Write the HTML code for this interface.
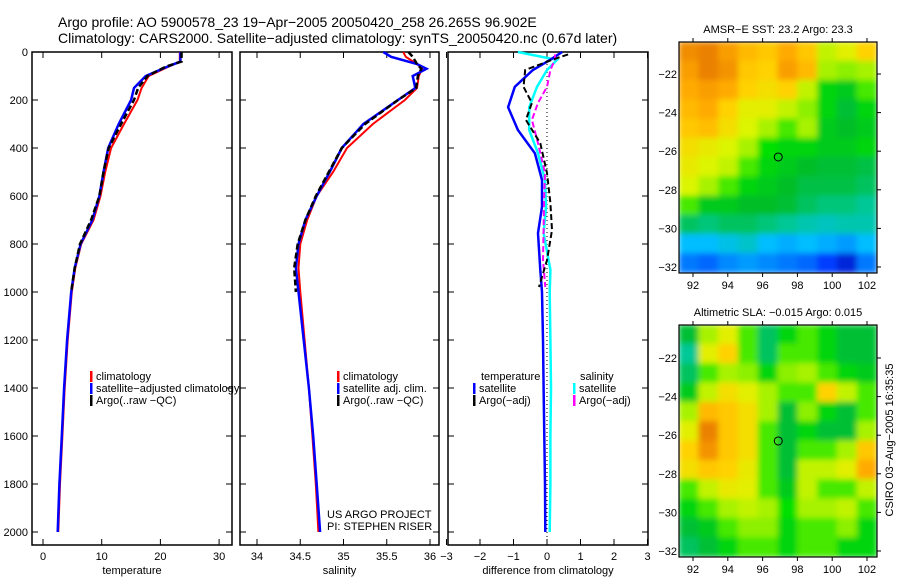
<!DOCTYPE html>
<html><head><meta charset="utf-8"><style>
body{margin:0;background:#fff}
svg{display:block;font-family:"Liberation Sans","DejaVu Sans",sans-serif}
</style></head><body>
<svg id="c" width="900" height="580" viewBox="0 0 900 580" xmlns="http://www.w3.org/2000/svg">
<defs><filter id="bl" x="0" y="0" width="1" height="1"><feGaussianBlur stdDeviation="3"/></filter>
<clipPath id="cp1"><rect x="679" y="42" width="198" height="231"/></clipPath>
<clipPath id="cp2"><rect x="679" y="325" width="198" height="232"/></clipPath></defs>
<text x="58" y="27" font-size="14">Argo profile: AO 5900578_23 19−Apr−2005 20050420_258 26.265S 96.902E</text>
<text x="58" y="43" font-size="14">Climatology: CARS2000. Satellite−adjusted climatology: synTS_20050420.nc (0.67d later)</text>
<g id="g"></g>
</svg>
<script>
// ---- data ----
var tDepth=[0,40,60,100,150,200,300,400,500,600,700,800,900,1000,1200,1400,1600,1800,2000];
var tClim=[23.3,23.3,21.5,18.0,16.8,16.1,13.8,11.6,10.6,9.8,8.6,6.5,5.5,4.9,4.2,3.7,3.3,2.9,2.6];
var tSat=[23.4,23.4,21.3,17.5,15.5,15.0,12.9,11.1,10.3,9.6,8.4,6.4,5.4,4.8,4.1,3.6,3.2,2.8,2.5];
var tArgo=[23.6,23.6,21.0,17.8,16.2,15.5,13.3,11.2,10.3,9.6,8.2,6.3,5.4,4.8];
var sDepth=[0,20,50,70,100,150,200,300,400,500,600,700,800,900,1000,1200,1400,1600,1800,2000];
var sClim=[35.69,35.72,35.85,35.91,35.87,35.85,35.71,35.34,35.04,34.88,34.69,34.58,34.50,34.48,34.50,34.55,34.60,34.64,34.68,34.71];
var sSat=[35.46,35.55,35.85,35.96,35.80,35.83,35.63,35.23,34.98,34.84,34.69,34.56,34.48,34.45,34.48,34.54,34.60,34.65,34.69,34.73];
var sArgo=[35.75,35.80,35.85,35.90,35.86,35.84,35.63,35.25,34.98,34.83,34.68,34.56,34.47,34.43,34.45];
var dDepth=[0,33,75,145,230,325,422,533,645,755,908,1000,1200,1400,1600,1800,2000];
var dTSat=[0.45,0.09,-0.42,-0.96,-1.16,-0.87,-0.36,-0.15,-0.15,-0.27,-0.2,-0.15,-0.12,-0.1,-0.08,-0.06,-0.05];
var dSSat=[-0.87,0.3,0.0,-0.3,-0.53,-0.53,-0.27,-0.06,-0.03,-0.1,0.1,0.08,0.1,0.12,0.1,0.1,0.08];
var daDepth=[10,30,75,145,212,283,380,504,629,742,867,979];
var dTArgo=[0.63,0.2,-0.65,-0.7,-0.45,-0.63,-0.2,0.0,0.1,0.15,0.0,-0.24];
var dSArgo=[0.24,0.24,0.1,0.0,-0.27,-0.45,-0.27,-0.06,-0.09,-0.1,-0.12,-0.05];
var depthTicks=[0,200,400,600,800,1000,1200,1400,1600,1800,2000];
var tTicks=[0,10,20,30];
var sTicks=[34,34.5,35,35.5,36];
var sTickLabels=["34","34.5","35","35.5","36"];
var dTicks=[-3,-2,-1,0,1,2,3];
var dTickLabels=["−3","−2","−1","0","1","2","3"];
var lonTicks=[92,94,96,98,100,102];
var latTicks=[-22,-24,-26,-28,-30,-32];
var sstGrid=[
[0.83,0.85,0.8,0.75,0.72,0.78,0.72,0.62,0.65,0.7],
[0.8,0.85,0.82,0.72,0.7,0.8,0.75,0.6,0.58,0.6],
[0.78,0.8,0.78,0.7,0.68,0.7,0.62,0.5,0.48,0.55],
[0.75,0.78,0.7,0.65,0.65,0.62,0.58,0.5,0.45,0.5],
[0.72,0.74,0.68,0.64,0.6,0.55,0.6,0.48,0.46,0.48],
[0.68,0.66,0.64,0.6,0.52,0.5,0.5,0.48,0.48,0.5],
[0.66,0.64,0.62,0.55,0.5,0.48,0.46,0.45,0.45,0.44],
[0.64,0.6,0.55,0.5,0.48,0.46,0.44,0.44,0.44,0.42],
[0.55,0.48,0.48,0.46,0.46,0.45,0.42,0.4,0.4,0.38],
[0.42,0.4,0.42,0.42,0.4,0.38,0.36,0.35,0.36,0.36],
[0.3,0.3,0.32,0.34,0.3,0.28,0.3,0.28,0.26,0.3],
[0.22,0.2,0.24,0.26,0.24,0.22,0.2,0.15,0.1,0.22]];
var slaGrid=[
[0.45,0.6,0.65,0.55,0.42,0.5,0.55,0.5,0.45,0.45],
[0.38,0.65,0.7,0.55,0.42,0.55,0.55,0.5,0.45,0.45],
[0.42,0.55,0.6,0.58,0.5,0.58,0.6,0.55,0.5,0.48],
[0.48,0.62,0.68,0.65,0.6,0.55,0.55,0.7,0.62,0.55],
[0.6,0.75,0.72,0.68,0.6,0.45,0.58,0.5,0.45,0.55],
[0.65,0.85,0.72,0.68,0.55,0.45,0.5,0.45,0.45,0.6],
[0.7,0.82,0.72,0.68,0.55,0.45,0.55,0.55,0.6,0.72],
[0.68,0.72,0.7,0.66,0.55,0.45,0.62,0.62,0.65,0.78],
[0.55,0.62,0.66,0.65,0.55,0.48,0.62,0.55,0.55,0.62],
[0.5,0.55,0.6,0.62,0.6,0.52,0.6,0.6,0.62,0.55],
[0.45,0.48,0.55,0.58,0.58,0.5,0.55,0.55,0.58,0.5],
[0.42,0.45,0.5,0.55,0.55,0.5,0.55,0.55,0.5,0.5]];

// ---- helpers ----
var NS="http://www.w3.org/2000/svg",G=document.getElementById('g');
function mk(t,a,p){var e=document.createElementNS(NS,t);for(var k in a)e.setAttribute(k,a[k]);(p||G).appendChild(e);return e;}
function yD(d){return 52+0.24*d;}
function xT(v){return 43+5.87*v;}
function xS(v){return 257+86.5*(v-34);}
function xDf(v){return 547+33.5*v;}
function line(xs,ds,fx,col,w,dash,name){
  var p=[];for(var i=0;i<xs.length;i++)p.push(fx(xs[i]).toFixed(1)+","+yD(ds[i]).toFixed(1));
  var a={points:p.join(" "),fill:"none",stroke:col,"stroke-width":w};if(dash)a["stroke-dasharray"]=dash;
  var e=mk("polyline",a);
  
  
}
function txt(x,y,s,fs,anchor,name){var e=mk("text",{x:x,y:y,"font-size":fs,"text-anchor":anchor||"start"});e.textContent=s;
  
  
  return e;}
function panel(x0,x1,ticks,labels,fx,xtitle,name,ylabels){
  var r=mk("rect",{x:x0,y:52,width:x1-x0,height:493,fill:"none",stroke:"#000","stroke-width":1.5});
  
  
  ticks.forEach(function(t,i){var x=fx(t);
    mk("line",{x1:x,x2:x,y1:545,y2:539,stroke:"#000"});mk("line",{x1:x,x2:x,y1:52,y2:58,stroke:"#000"});
    txt(x,560,labels[i],11,"middle",name+'-x-tick-label');});
  depthTicks.forEach(function(d){var y=yD(d);
    mk("line",{x1:x0,x2:x0+6,y1:y,y2:y,stroke:"#000"});mk("line",{x1:x1,x2:x1-6,y1:y,y2:y,stroke:"#000"});
    if(ylabels)txt(28,y+4,String(d),11,"end",'y-tick-label');});
  txt((x0+x1)/2,574,xtitle,11,"middle",name+'-x-axis-title');
}
function leg(x,y,col,label,name){var r=mk("rect",{x:x,y:y-9,width:2.5,height:11,fill:col});
  
  
  if(label)txt(x+6,y,label,11,"start",name);}

// ---- panels ----
panel(32,232,tTicks,tTicks.map(String),xT,"temperature","temperature-panel",true);
panel(240,439,sTicks,sTickLabels,xS,"salinity","salinity-panel",false);
panel(448,648,dTicks,dTickLabels,xDf,"difference from climatology","difference-panel",false);
var z=mk("line",{x1:xDf(0),x2:xDf(0),y1:52,y2:545,stroke:"#000","stroke-dasharray":"1,3"});


line(tClim,tDepth,xT,"#f00",2,null,"temp-climatology-line");
line(tSat,tDepth,xT,"#00f",2.5,null,"temp-satellite-line");
line(tArgo,tDepth.slice(0,tArgo.length),xT,"#000",2.5,"6,3","temp-argo-line");
line(sClim,sDepth,xS,"#f00",2,null,"sal-climatology-line");
line(sSat,sDepth,xS,"#00f",2.5,null,"sal-satellite-line");
line(sArgo,sDepth.slice(0,sArgo.length),xS,"#000",2.5,"6,3","sal-argo-line");
line(dSSat,dDepth,xDf,"#0ff",2.5,null,"diff-sal-satellite-line");
line(dTSat,dDepth,xDf,"#00f",2.5,null,"diff-temp-satellite-line");
line(dSArgo,daDepth,xDf,"#f0f",2,"6,3","diff-sal-argo-line");
line(dTArgo,daDepth,xDf,"#000",2,"6,3","diff-temp-argo-line");

// legends
leg(90,380,"#f00","climatology","legend-climatology");
leg(90,392,"#00f","satellite−adjusted climatology","legend-satellite");
leg(90,404,"#000","Argo(..raw −QC)","legend-argo");
leg(337,380,"#f00","climatology","legend2-climatology");
leg(337,392,"#00f","satellite adj. clim.","legend2-satellite");
leg(337,404,"#000","Argo(..raw −QC)","legend2-argo");
txt(481,380,"temperature",11,"start","legend3-temperature-header");
leg(473,392,"#00f","satellite","legend3-temp-satellite");
leg(473,404,"#000","Argo(−adj)","legend3-temp-argo");
txt(580,380,"salinity",11,"start","legend3-salinity-header");
leg(573,392,"#0ff","satellite","legend3-sal-satellite");
leg(573,404,"#f0f","Argo(−adj)","legend3-sal-argo");
txt(327,518,"US ARGO PROJECT",11,"start","project-label");
txt(327,530,"PI: STEPHEN RISER",11,"start","pi-label");

// ---- maps ----
var stops=[[0,[0,0,140]],[0.15,[0,60,255]],[0.3,[0,190,255]],[0.38,[0,200,150]],[0.46,[0,190,40]],[0.52,[0,225,0]],[0.58,[140,240,0]],[0.64,[220,245,0]],[0.7,[255,210,0]],[0.78,[255,170,0]],[0.9,[220,100,0]],[1,[150,40,0]]];
function cmap(v){for(var i=1;i<stops.length;i++){if(v<=stops[i][0]){var a=stops[i-1],b=stops[i],f=(v-a[0])/(b[0]-a[0]);
  return "rgb("+[0,1,2].map(function(k){return Math.round(a[1][k]+f*(b[1][k]-a[1][k]));}).join(",")+")";}}return "rgb(150,40,0)";}
function map(grid,x0,y0,w,h,latTop,latY,clip,name,title){
  var lonX=function(l){return 693+17.4*(l-92);};
  var latYf=function(l){return latTop+latY*(-22-l);};
  var g=mk("g",{"clip-path":"url(#"+clip+")"});
  var gi=mk("g",{filter:"url(#bl)"},g);
  var rows=grid.length,cols=grid[0].length,cw=w/cols,ch=h/rows;
  mk("rect",{x:x0,y:y0,width:w,height:h,fill:cmap(0.55)},gi);
  grid.forEach(function(row,r){row.forEach(function(v,c){
    var e=mk("rect",{x:x0+c*cw-0.5,y:y0+r*ch-0.5,width:cw+1,height:ch+1,fill:cmap(v)},gi);
    
    
  });});
  var f=mk("rect",{x:x0,y:y0,width:w,height:h,fill:"none",stroke:"#000","stroke-width":1.2});
  
  
  lonTicks.forEach(function(l){var x=lonX(l);mk("line",{x1:x,x2:x,y1:y0,y2:y0-4,stroke:"#000"});mk("line",{x1:x,x2:x,y1:y0+h,y2:y0+h+4,stroke:"#000"});
    txt(x,y0+h+16,String(l),11,"middle",name+'-lon-label');});
  latTicks.forEach(function(l){var y=latYf(l);mk("line",{x1:x0+w,x2:x0+w+4,y1:y,y2:y,stroke:"#000"});
    txt(x0-2,y+4,"−"+Math.abs(l),11,"end",name+'-lat-label');});
  var c=mk("circle",{cx:lonX(96.9),cy:latYf(-26.3),r:4,fill:"none",stroke:"#000","stroke-width":1});
  
  
  txt(x0+w/2,y0-9,title,11,"middle",name+'-title');
}
map(sstGrid,679,42,198,231,74,19.3,"cp1","sst-map","AMSR−E SST: 23.2 Argo: 23.3");
map(slaGrid,679,325,198,232,358,19.3,"cp2","sla-map","Altimetric SLA: −0.015 Argo: 0.015");
var rt=txt(0,0,"CSIRO 03−Aug−2005 16:35:35",11,"middle","timestamp-label");
rt.setAttribute("transform","translate(893,440) rotate(-90)");
</script>
</body></html>
